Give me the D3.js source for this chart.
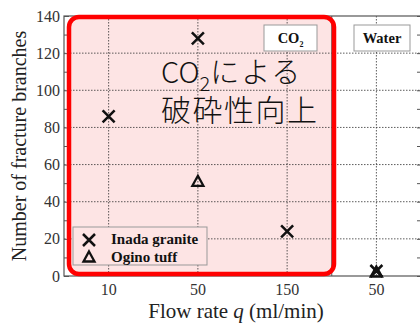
<!DOCTYPE html>
<html>
<head>
<meta charset="utf-8">
<script src="https://cdn.jsdelivr.net/npm/d3@7"></script>
<style>
body { margin: 0; background: #fff; }
svg { display: block; }
</style>
</head>
<body>
<svg width="420" height="327"></svg>
<script>
var categories = ["CO2-10", "CO2-50", "CO2-150", "Water-50"];
var tickLabels = ["10", "50", "150", "50"];
var granite = [86, 128, 24, 1];
var tuff = [null, 51, null, 0];
var yTicks = [0, 20, 40, 60, 80, 100, 120, 140];

var svg = d3.select("svg");
var plotL = 64, plotR = 421, plotT = 16, plotB = 276;

var x = d3.scaleBand().domain(categories).range([plotL, plotR]);
var y = d3.scaleLinear().domain([0, 140]).range([plotB, plotT]);
var cx = function(c) { return x(c) + x.bandwidth() / 2; };

// CO2 highlight
svg.append("rect")
    .attr("x", 67).attr("y", 16)
    .attr("width", 268).attr("height", 260)
    .attr("rx", 11)
    .attr("fill", "#fde4e4");

// grid
svg.append("g").selectAll("line")
  .data(yTicks.slice(1, -1))
  .enter().append("line")
    .attr("x1", plotL).attr("x2", plotR)
    .attr("y1", function(d) { return y(d); })
    .attr("y2", function(d) { return y(d); })
    .attr("stroke", "#333").attr("stroke-width", 0.8)
    .attr("stroke-dasharray", "1.5,1.5");

svg.append("g").selectAll("line")
  .data(categories)
  .enter().append("line")
    .attr("x1", cx).attr("x2", cx)
    .attr("y1", plotT).attr("y2", plotB)
    .attr("stroke", "#333").attr("stroke-width", 0.8)
    .attr("stroke-dasharray", "1.5,1.5");

// minor/major ticks on both sides
svg.append("g")
    .attr("transform", "translate(" + plotL + ",0)")
    .call(d3.axisRight(y).tickValues(d3.range(0, 141, 10)).tickSize(5).tickFormat(""))
    .call(function(g) { g.select(".domain").remove(); })
    .selectAll("line").attr("stroke", "#555");

svg.append("g")
    .attr("transform", "translate(" + plotR + ",0)")
    .call(d3.axisLeft(y).tickValues(d3.range(0, 141, 10)).tickSize(4).tickFormat(""))
    .call(function(g) { g.select(".domain").remove(); })
    .selectAll("line").attr("stroke", "#555");

svg.append("g").selectAll("text")
  .data(yTicks)
  .enter().append("text")
    .attr("x", plotL - 4)
    .attr("y", function(d) { return y(d) + 5.5; })
    .attr("text-anchor", "end")
    .attr("font-family", "Liberation Serif")
    .attr("font-size", "16px")
    .attr("fill", "#333")
    .text(function(d) { return d; });

// x tick labels
svg.append("g").selectAll("text")
  .data(categories)
  .enter().append("text")
    .attr("x", cx)
    .attr("y", 295)
    .attr("text-anchor", "middle")
    .attr("font-family", "Liberation Serif")
    .attr("font-size", "16px")
    .attr("fill", "#333")
    .text(function(d, i) { return tickLabels[i]; });

// frame
svg.append("rect")
    .attr("x", plotL).attr("y", plotT)
    .attr("width", plotR - plotL).attr("height", plotB - plotT)
    .attr("fill", "none").attr("stroke", "#555").attr("stroke-width", 1.2);

svg.append("line")
    .attr("x1", x("Water-50")).attr("x2", x("Water-50"))
    .attr("y1", plotT).attr("y2", plotB)
    .attr("stroke", "#555");

// panel labels
function labelBox(x0, w, txt, sub) {
  svg.append("rect")
      .attr("x", x0).attr("y", 25).attr("width", w).attr("height", 26)
      .attr("fill", "#fff").attr("stroke", "#999").attr("stroke-width", 1);
  var t = svg.append("text")
      .attr("x", x0 + w / 2).attr("y", 43)
      .attr("text-anchor", "middle")
      .attr("font-family", "Liberation Serif")
      .attr("font-weight", "bold")
      .attr("font-size", "14.5px")
      .attr("fill", "#111")
      .text(txt);
  if (sub) t.append("tspan").attr("font-size", "8px").attr("dy", 4).text(sub);
}
labelBox(264, 53, "CO", "2");
labelBox(354, 56, "Water");

// markers
function cross(g, px, py) {
  g.append("path")
      .attr("d", "M" + (px - 6) + "," + (py - 6) + "L" + (px + 6) + "," + (py + 6) +
                 "M" + (px + 6) + "," + (py - 6) + "L" + (px - 6) + "," + (py + 6))
      .attr("stroke", "#111").attr("stroke-width", 2.5).attr("fill", "none");
}
function tri(g, px, py) {
  g.append("path")
      .attr("d", "M" + px + "," + (py - 5.5) + "L" + (px + 5.5) + "," + (py + 4.5) +
                 "L" + (px - 5.5) + "," + (py + 4.5) + "Z")
      .attr("stroke", "#111").attr("stroke-width", 2.3).attr("fill", "none");
}

var marks = svg.append("g");
tuff.forEach(function(v, i) {
  if (v != null) tri(marks, cx(categories[i]), y(v) - (v === 0 ? 4 : 0));
});
granite.forEach(function(v, i) {
  if (v != null) cross(marks, cx(categories[i]), Math.min(y(v), plotB - 5));
});

// legend
svg.append("rect")
    .attr("x", 73).attr("y", 227).attr("width", 134).attr("height", 38)
    .attr("fill", "#fde4e4").attr("stroke", "#999").attr("stroke-width", 1);
cross(svg, 89, 240);
tri(svg, 89, 257);
svg.append("text")
    .attr("x", 111).attr("y", 244)
    .attr("font-family", "Liberation Serif").attr("font-weight", "bold")
    .attr("font-size", "15px").attr("fill", "#111")
    .text("Inada granite");
svg.append("text")
    .attr("x", 111).attr("y", 262)
    .attr("font-family", "Liberation Serif").attr("font-weight", "bold")
    .attr("font-size", "15px").attr("fill", "#111")
    .text("Ogino tuff");

// red outline
svg.append("rect")
    .attr("x", 69).attr("y", 17)
    .attr("width", 265).attr("height", 257)
    .attr("rx", 10)
    .attr("fill", "none").attr("stroke", "#ff0000").attr("stroke-width", 4.5);

// annotation
var ann = svg.append("text")
    .attr("x", 161).attr("y", 83)
    .attr("font-family", "Noto Sans CJK JP")
    .attr("font-weight", 300)
    .attr("font-size", "29px")
    .attr("fill", "#111");
ann.append("tspan").text("CO");
ann.append("tspan").attr("font-size", "20px").attr("dy", 8).text("2");
ann.append("tspan").attr("dy", -8).attr("letter-spacing", "2px").text("による");
svg.append("text")
    .attr("x", 161).attr("y", 121)
    .attr("font-family", "Noto Sans CJK JP")
    .attr("font-weight", 300)
    .attr("font-size", "30px")
    .attr("letter-spacing", "1.5px")
    .attr("fill", "#111")
    .text("破砕性向上");

// axis titles
svg.append("text")
    .attr("transform", "translate(26," + ((plotT + plotB) / 2) + ") rotate(-90)")
    .attr("text-anchor", "middle")
    .attr("font-family", "Liberation Serif")
    .attr("font-size", "20px")
    .attr("fill", "#222")
    .text("Number of fracture branches");

var xt = svg.append("text")
    .attr("x", 236).attr("y", 318)
    .attr("text-anchor", "middle")
    .attr("font-family", "Liberation Serif")
    .attr("font-size", "21px")
    .attr("fill", "#222");
xt.append("tspan").text("Flow rate ");
xt.append("tspan").attr("font-style", "italic").text("q");
xt.append("tspan").text(" (ml/min)");
</script>
</body>
</html>
